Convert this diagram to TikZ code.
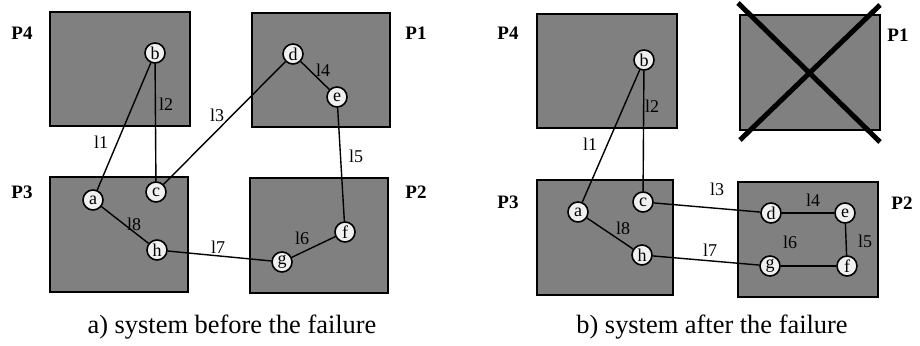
\documentclass[tikz,border=0pt]{standalone}
\usepackage{fontspec}
\setmainfont{Liberation Serif}
\usetikzlibrary{positioning}

\begin{document}
\begin{tikzpicture}[x=0.5pt,y=-0.5pt,
		proc/.style={draw=black,line width=0.7pt,fill=black!50},
		nd/.style={circle,draw=black,line width=0.8pt,fill=black!6,minimum size=10pt,inner sep=0pt,font=\fontsize{9}{9}\selectfont},
		plab/.style={font=\fontsize{9.5}{10}\selectfont\bfseries},
		lab/.style={font=\fontsize{9}{10}\selectfont,inner sep=0pt},
		link/.style={line width=0.7pt},
		capt/.style={font=\fontsize{13.2}{15}\selectfont}]
		\useasboundingbox (0,0) rectangle (920,346);
		% a) before the failure
		\path[proc] (50,12) rectangle (190,126);
		\path[proc] (252,13) rectangle (390,127);
		\path[proc] (50,177) rectangle (188,292);
		\path[proc] (250,178) rectangle (388,293);
		\node[plab] (LP4) at (22,33) {P4};
		\node[plab] (LP1) at (416,33) {P1};
		\node[plab] (LP3) at (22,192) {P3};
		\node[plab] (LP2) at (416,192) {P2};
		\node[nd] (La) at (93,200) {a};
		\node[nd] (Lb) at (155,53) {b};
		\node[nd] (Lc) at (156,192) {c};
		\node[nd] (Ld) at (293,54) {d};
		\node[nd] (Le) at (337,97) {e};
		\node[nd] (Lf) at (345,232) {f};
		\node[nd] (Lg) at (282,262) {g};
		\node[nd] (Lh) at (157,250) {h};
		\draw[link] (Lb) -- (La);
		\draw[link] (Lb) -- (Lc);
		\draw[link] (Lc) -- (Ld);
		\draw[link] (Ld) -- (Le);
		\draw[link] (Le) -- (Lf);
		\draw[link] (Lf) -- (Lg);
		\draw[link] (Lg) -- (Lh);
		\draw[link] (Lh) -- (La);
		\node[lab] (Ll1) at (101,142) {l1};
		\node[lab] (Ll2) at (166,104) {l2};
		\node[lab] (Ll3) at (217,115) {l3};
		\node[lab] (Ll4) at (323,70) {l4};
		\node[lab] (Ll5) at (356,156) {l5};
		\node[lab] (Ll6) at (302,238) {l6};
		\node[lab] (Ll7) at (218,247) {l7};
		\node[lab] (Ll8) at (134,224) {l8};
		\node[capt] (capa) at (232,327) {a) system before the failure};
		% b) after the failure
		\path[proc] (537,14) rectangle (677,128);
		\path[proc] (740,15) rectangle (880,130);
		\path[proc] (537,180) rectangle (673,295);
		\path[proc] (738,182) rectangle (878,297);
		\draw[line width=2.5pt] (738,3) -- (880,142);
		\draw[line width=2.5pt] (880,5) -- (740,140);
		\node[plab] (RP4) at (508,33) {P4};
		\node[plab] (RP1) at (898,35) {P1};
		\node[plab] (RP3) at (508,202) {P3};
		\node[plab] (RP2) at (902,203) {P2};
		\node[nd] (Ra) at (578,212) {a};
		\node[nd] (Rb) at (644,60) {b};
		\node[nd] (Rc) at (643,202) {c};
		\node[nd] (Rd) at (771,213) {d};
		\node[nd] (Re) at (845,213) {e};
		\node[nd] (Rf) at (847,266) {f};
		\node[nd] (Rg) at (770,266) {g};
		\node[nd] (Rh) at (642,255) {h};
		\draw[link] (Rb) -- (Ra);
		\draw[link] (Rb) -- (Rc);
		\draw[link] (Rc) -- (Rd);
		\draw[link] (Rd) -- (Re);
		\draw[link] (Re) -- (Rf);
		\draw[link] (Rf) -- (Rg);
		\draw[link] (Rg) -- (Rh);
		\draw[link] (Rh) -- (Ra);
		\node[lab] (Rl1) at (590,144) {l1};
		\node[lab] (Rl2) at (652,106) {l2};
		\node[lab] (Rl3) at (717,189) {l3};
		\node[lab] (Rl4) at (813,200) {l4};
		\node[lab] (Rl5) at (865,241) {l5};
		\node[lab] (Rl6) at (790,242) {l6};
		\node[lab] (Rl7) at (710,250) {l7};
		\node[lab] (Rl8) at (623,228) {l8};
		\node[capt] (capb) at (712,327) {b) system after the failure};
	\end{tikzpicture}
\end{document}
